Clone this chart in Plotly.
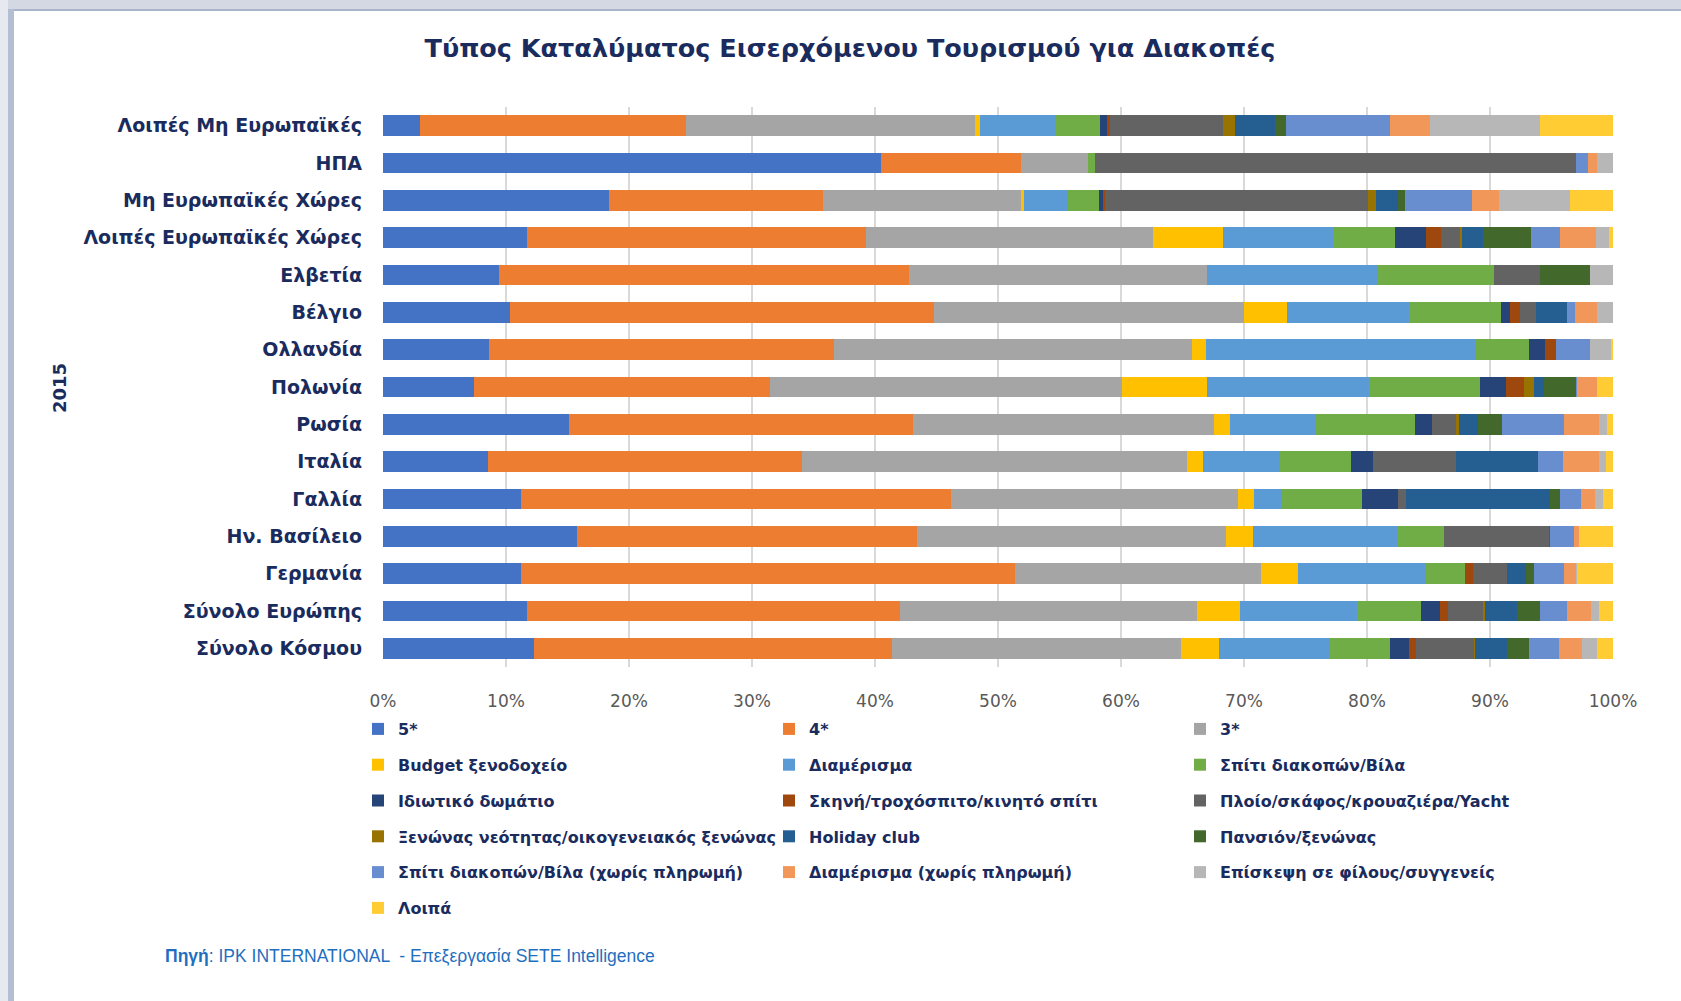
import plotly.graph_objects as go

# ---------------- data ----------------
categories = [
    "Λοιπές Μη Ευρωπαϊκές", "ΗΠΑ", "Μη Ευρωπαϊκές Χώρες", "Λοιπές Ευρωπαϊκές Χώρες",
    "Ελβετία", "Βέλγιο", "Ολλανδία", "Πολωνία", "Ρωσία", "Ιταλία", "Γαλλία",
    "Ην. Βασίλειο", "Γερμανία", "Σύνολο Ευρώπης", "Σύνολο Κόσμου",
]

series_names = [
    "5*", "4*", "3*",
    "Budget ξενοδοχείο", "Διαμέρισμα", "Σπίτι διακοπών/Βίλα",
    "Ιδιωτικό δωμάτιο", "Σκηνή/τροχόσπιτο/κινητό σπίτι", "Πλοίο/σκάφος/κρουαζιέρα/Yacht",
    "Ξενώνας νεότητας/οικογενειακός ξενώνας", "Holiday club", "Πανσιόν/ξενώνας",
    "Σπίτι διακοπών/Βίλα (χωρίς πληρωμή)", "Διαμέρισμα (χωρίς πληρωμή)", "Επίσκεψη σε φίλους/συγγενείς",
    "Λοιπά",
]

s_5star     = [3.0, 40.5, 18.4, 11.7, 9.4, 10.3, 8.6, 7.4, 15.1, 8.5, 11.2, 15.8, 11.2, 11.7, 12.3]
s_4star     = [21.6, 11.4, 17.4, 27.6, 33.4, 34.5, 28.1, 24.1, 28.0, 25.6, 35.0, 27.6, 40.2, 30.3, 29.1]
s_3star     = [23.5, 5.4, 16.1, 23.3, 24.2, 25.2, 29.1, 28.6, 24.5, 31.3, 23.3, 25.1, 20.0, 24.2, 23.5]
s_budget    = [0.4, 0.0, 0.2, 5.7, 0.0, 3.5, 1.1, 6.9, 1.3, 1.3, 1.3, 2.2, 3.0, 3.5, 3.1]
s_apart     = [6.2, 0.0, 3.6, 9.0, 13.9, 9.9, 22.0, 13.2, 6.9, 6.2, 2.3, 11.8, 10.4, 9.5, 9.0]
s_villa     = [3.6, 0.6, 2.5, 5.0, 9.4, 7.5, 4.3, 9.0, 8.1, 5.8, 6.5, 3.8, 3.2, 5.2, 4.9]
s_private   = [0.6, 0.0, 0.4, 2.5, 0.0, 0.7, 1.3, 2.1, 1.4, 1.8, 2.9, 0.0, 0.0, 1.5, 1.5]
s_camping   = [0.2, 0.0, 0.1, 1.2, 0.0, 0.8, 0.9, 1.5, 0.0, 0.0, 0.0, 0.0, 0.6, 0.7, 0.6]
s_boat      = [9.2, 39.1, 21.4, 1.6, 3.8, 1.3, 0.0, 0.0, 1.9, 6.7, 0.7, 8.5, 2.8, 2.9, 4.7]
s_hostel    = [1.0, 0.0, 0.6, 0.1, 0.0, 0.0, 0.0, 0.8, 0.3, 0.0, 0.0, 0.0, 0.0, 0.1, 0.1]
s_holiday   = [3.2, 0.0, 1.8, 1.7, 0.0, 2.6, 0.0, 0.8, 1.5, 6.7, 11.7, 0.0, 1.5, 2.6, 2.6]
s_pension   = [0.9, 0.0, 0.6, 3.9, 4.0, 0.0, 0.0, 2.6, 2.0, 0.0, 0.8, 0.1, 0.7, 1.9, 1.8]
s_villa_free = [8.5, 1.0, 5.4, 2.4, 0.0, 0.6, 2.7, 0.1, 5.0, 2.0, 1.7, 1.9, 2.4, 2.2, 2.4]
s_apart_free = [3.2, 0.7, 2.2, 2.9, 0.0, 1.8, 0.0, 1.6, 2.9, 3.0, 1.1, 0.4, 1.0, 1.9, 1.9]
s_friends   = [9.0, 1.3, 5.8, 1.1, 1.9, 1.3, 1.7, 0.0, 0.6, 0.5, 0.7, 0.0, 0.1, 0.7, 1.2]
s_other     = [5.9, 0.0, 3.5, 0.3, 0.0, 0.0, 0.2, 1.3, 0.5, 0.6, 0.8, 2.8, 2.9, 1.1, 1.3]

series_values = [
    s_5star, s_4star, s_3star, s_budget, s_apart, s_villa, s_private, s_camping,
    s_boat, s_hostel, s_holiday, s_pension, s_villa_free, s_apart_free, s_friends, s_other,
]

colors = [
    "#4472C4", "#ED7D31", "#A5A5A5", "#FFC000", "#5B9BD5", "#70AD47",
    "#264478", "#9E480E", "#636363", "#997300", "#255E91", "#43682B",
    "#698ED0", "#F1975A", "#B7B7B7", "#FFCD33",
]

x_ticks = [0, 10, 20, 30, 40, 50, 60, 70, 80, 90, 100]
x_tick_labels = [f"{t}%" for t in x_ticks]

title_text = "Τύπος Καταλύματος Εισερχόμενου Τουρισμού για Διακοπές"
year_label = "2015"

NAVY = "#1A2B5E"

# ---------------- figure ----------------
W, H = 1681, 1001
L, R, T, B = 383, 68, 107, 334

fig = go.Figure()
legend_ids = ["legend", "legend2", "legend3"]
for i, (name, vals, col) in enumerate(zip(series_names, series_values, colors)):
    fig.add_trace(go.Bar(
        y=categories, x=vals, name=name, orientation="h",
        marker=dict(color=col, line=dict(width=0)),
        legend=legend_ids[i % 3],
        legendgroup=f"g{i}",
        hovertemplate="%{y}: %{x:.1f}%<extra>" + name + "</extra>",
    ))

plot_w = W - L - R
plot_h = H - T - B

def px_x(px):
    return (px - L) / plot_w

def px_y(py):
    return (H - B - py) / plot_h

legend_common = dict(
    orientation="v", yanchor="top", xanchor="left",
    font=dict(family="DejaVu Sans", size=16, color=NAVY, weight="bold"),
    bgcolor="rgba(0,0,0,0)", tracegroupgap=12, itemwidth=30,
    traceorder="grouped",
)
legend_top = px_y(712)

fig.update_layout(
    width=W, height=H,
    margin=dict(l=L, r=R, t=T, b=B, pad=0),
    paper_bgcolor="white", plot_bgcolor="white",
    barmode="stack", bargap=0.45,
    showlegend=True,
    title=dict(
        text=f"<b>{title_text}</b>", x=850 / W, xanchor="center", xref="container",
        y=1 - 48 / H, yanchor="middle", yref="container",
        font=dict(family="DejaVu Sans", size=25.5, color=NAVY),
    ),
    xaxis=dict(
        range=[0, 100], tickvals=x_ticks, ticktext=x_tick_labels,
        showgrid=True, gridcolor="#D9D9D9", gridwidth=1.5,
        zeroline=False, showline=False, ticks="",
        tickfont=dict(family="DejaVu Sans", size=17, color="#595959"),
        ticklabelstandoff=22, fixedrange=True,
    ),
    yaxis=dict(
        autorange="reversed", showgrid=False, zeroline=False, showline=False,
        ticks="", ticklabelstandoff=20,
        tickfont=dict(family="DejaVu Sans", size=19, color=NAVY, weight="bold"),
        fixedrange=True,
    ),
    legend=dict(x=px_x(358), y=legend_top, **legend_common),
    legend2=dict(x=px_x(769), y=legend_top, **legend_common),
    legend3=dict(x=px_x(1180), y=legend_top, **legend_common),
    annotations=[
        dict(
            text=f"<b>{year_label}</b>", textangle=-90, xref="paper", yref="paper",
            x=px_x(59), y=px_y(388), xanchor="center", yanchor="middle", showarrow=False,
            font=dict(family="DejaVu Sans", size=18, color=NAVY),
        ),
        dict(
            text="<b>Πηγή</b>: IPK INTERNATIONAL  - Επεξεργασία SETE Intelligence",
            xref="paper", yref="paper", x=px_x(163), y=px_y(956),
            xanchor="left", yanchor="middle", showarrow=False,
            font=dict(family="Liberation Sans", size=17.5, color="#1F6FC0"),
        ),
    ],
    shapes=[
        dict(type="rect", xref="paper", yref="paper", layer="above",
             x0=px_x(0), x1=px_x(W), y0=px_y(0), y1=px_y(9),
             fillcolor="#D3D8E2", line=dict(width=0)),
        dict(type="rect", xref="paper", yref="paper", layer="above",
             x0=px_x(0), x1=px_x(W), y0=px_y(9), y1=px_y(11),
             fillcolor="#A9B5CB", line=dict(width=0)),
        dict(type="rect", xref="paper", yref="paper", layer="above",
             x0=px_x(0), x1=px_x(8), y0=px_y(0), y1=px_y(H),
             fillcolor="#E6E9EF", line=dict(width=0)),
        dict(type="rect", xref="paper", yref="paper", layer="above",
             x0=px_x(8), x1=px_x(14), y0=px_y(9), y1=px_y(H),
             fillcolor="#B3BED3", line=dict(width=0)),
    ],
)

fig.write_html(
    "out.html",
    config={"displayModeBar": False},
    post_script="document.body.style.margin='0';document.body.style.overflow='hidden';",
)
